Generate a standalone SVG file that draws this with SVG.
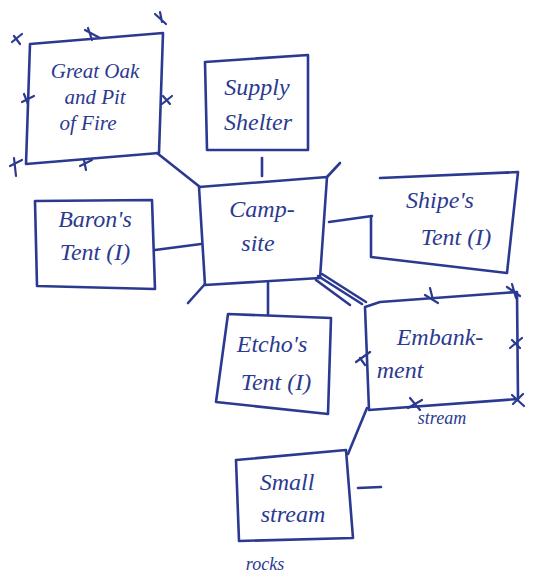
<svg xmlns="http://www.w3.org/2000/svg" width="542" height="588" viewBox="0 0 542 588">
<style>
.b{fill:none;stroke:#2b3a90;stroke-width:2.6;stroke-linecap:round;stroke-linejoin:round}
.x{fill:none;stroke:#2b3a90;stroke-width:2.2;stroke-linecap:round}
.t{font-family:"Liberation Serif",serif;font-style:italic;font-size:24px;fill:#2b3a90;text-anchor:middle}
.m{font-size:21px}
.s{font-size:18px}
</style>
<rect width="542" height="588" fill="#fff"/>
<g id="connectors">
<path class="b" d="M157,153 L200,187"/>
<path class="b" d="M262,158 L262,176"/>
<path class="b" d="M155,250 L201,244"/>
<path class="b" d="M329,222 L372,216"/>
<path class="b" d="M268,283 L268,315"/>
<path class="b" d="M318,276 L362,304 M322,274 L366,302 M316,280 L350,305"/>
<path class="b" d="M205,284 L188,303"/>
<path class="b" d="M327,177 L340,163"/>
<path class="b" d="M367,408 L348,454"/>
<path class="b" d="M358,488 L381,487"/>
</g>
<g id="great-oak">
<path class="b" d="M30,44 L163,33 L159,153 L26,164 Z"/>
<path class="x" d="M12,42 L22,34 M14,36 L20,44 M85,30 L100,38 M88,28 L92,40 M155,14 L166,24 M160,12 L162,22 M22,102 L34,96 M24,94 L28,104 M163,96 L170,104 M162,104 L172,96 M10,166 L22,160 M14,158 L16,176 M80,166 L92,160 M84,160 L86,170"/>
<text class="t m" x="95" y="78">Great Oak</text>
<text class="t m" x="95" y="104">and Pit</text>
<text class="t m" x="88" y="130">of Fire</text>
</g>
<g id="supply-shelter">
<path class="b" d="M205,62 L308,55 L308,150 L207,150 Z"/>
<text class="t" x="257" y="95">Supply</text>
<text class="t" x="258" y="130">Shelter</text>
</g>
<g id="barons-tent">
<path class="b" d="M35,201 L152,200 L155,289 L37,286 Z"/>
<text class="t" x="95" y="227">Baron's</text>
<text class="t" x="95" y="260">Tent (I)</text>
</g>
<g id="camp-site">
<path class="b" d="M199,187 L327,177 L320,278 L205,285 Z"/>
<text class="t" x="262" y="217">Camp-</text>
<text class="t" x="258" y="251">site</text>
</g>
<g id="shipes-tent">
<path class="b" d="M380,178 L518,172 L507,273 L371,257 L371,216"/>
<text class="t" x="440" y="208">Shipe's</text>
<text class="t" x="456" y="245">Tent (I)</text>
</g>
<g id="etchos-tent">
<path class="b" d="M225,314 L328,318 L325,414 L213,402 Z" transform="translate(3,0)"/>
<text class="t" x="272" y="352">Etcho's</text>
<text class="t" x="276" y="390">Tent (I)</text>
</g>
<g id="embankment">
<path class="b" d="M365,307 L380,302 L517,292 L518,399 L369,410 Z"/>
<path class="x" d="M425,295 L438,303 M430,288 L433,300 M507,287 L520,296 M512,284 L516,298 M360,358 L365,365 M356,362 L370,352 M512,340 L520,348 M510,348 L522,338 M410,398 L420,410 M408,408 L422,400 M512,395 L524,406 M513,404 L523,394"/>
<text class="t" x="440" y="345">Embank-</text>
<text class="t" x="400" y="378">ment</text>
<text class="t s" x="442" y="424">stream</text>
</g>
<g id="small-stream">
<path class="b" d="M236,460 L346,450 L353,538 L239,541 Z"/>
<text class="t" x="287" y="490">Small</text>
<text class="t" x="293" y="522">stream</text>
<text class="t s" x="265" y="570">rocks</text>
</g>
</svg>
